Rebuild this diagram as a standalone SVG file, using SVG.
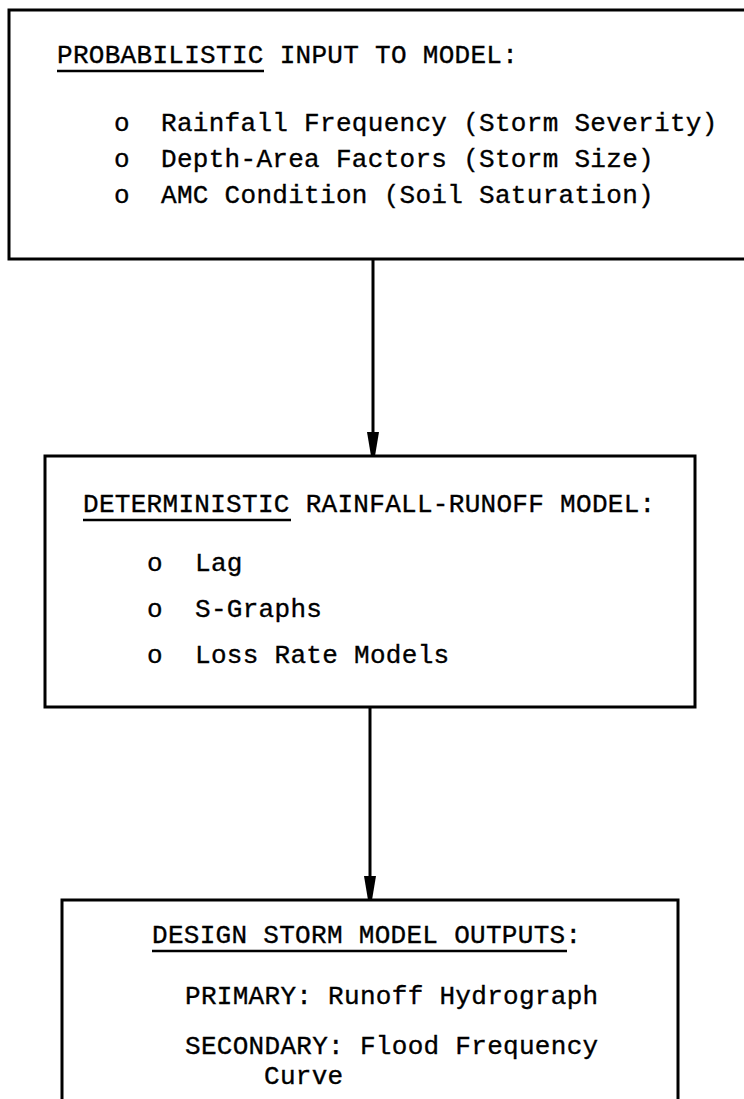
<svg xmlns="http://www.w3.org/2000/svg" width="744" height="1099" viewBox="0 0 744 1099">
<style>
.box{fill:none;stroke:#000;stroke-width:3}
.t{font-family:"Liberation Mono","DejaVu Sans Mono",monospace;font-size:26px;letter-spacing:0.3px;fill:#000;stroke:#000;stroke-width:0.35}
.ul{stroke:#000;stroke-width:2.5}
.conn{stroke:#000;stroke-width:3;fill:none}
.head{fill:#000}
</style>
<rect width="744" height="1099" fill="#fff"/>
<g id="input">
<rect class="box" x="9" y="10" width="745" height="249"/>
<text class="t" x="57" y="63">PROBABILISTIC INPUT TO MODEL:</text>
<line class="ul" x1="57" y1="71" x2="264" y2="71"/>
<text class="t" x="114" y="131">o</text>
<text class="t" x="161" y="131">Rainfall Frequency (Storm Severity)</text>
<text class="t" x="114" y="167">o</text>
<text class="t" x="161" y="167">Depth-Area Factors (Storm Size)</text>
<text class="t" x="114" y="203">o</text>
<text class="t" x="161" y="203">AMC Condition (Soil Saturation)</text>
</g>
<g id="model">
<rect class="box" x="45" y="456" width="650" height="251"/>
<text class="t" x="83" y="512">DETERMINISTIC RAINFALL-RUNOFF MODEL:</text>
<line class="ul" x1="83" y1="520" x2="291" y2="520"/>
<text class="t" x="147" y="571">o</text>
<text class="t" x="195" y="571">Lag</text>
<text class="t" x="147" y="617">o</text>
<text class="t" x="195" y="617">S-Graphs</text>
<text class="t" x="147" y="663">o</text>
<text class="t" x="195" y="663">Loss Rate Models</text>
</g>
<g id="outputs">
<rect class="box" x="62" y="900" width="616" height="220"/>
<text class="t" x="152" y="943">DESIGN STORM MODEL OUTPUTS:</text>
<line class="ul" x1="152" y1="951" x2="567" y2="951"/>
<text class="t" x="185" y="1004">PRIMARY: Runoff Hydrograph</text>
<text class="t" x="185" y="1054">SECONDARY: Flood Frequency</text>
<text class="t" x="264" y="1084">Curve</text>
</g>
<g id="connectors">
<line class="conn" x1="373" y1="259" x2="373" y2="434"/>
<polygon class="head" points="367,432 379,432 375,456 371,456"/>
<line class="conn" x1="370" y1="707" x2="370" y2="878"/>
<polygon class="head" points="364,876 376,876 372,900 368,900"/>
</g>
</svg>
